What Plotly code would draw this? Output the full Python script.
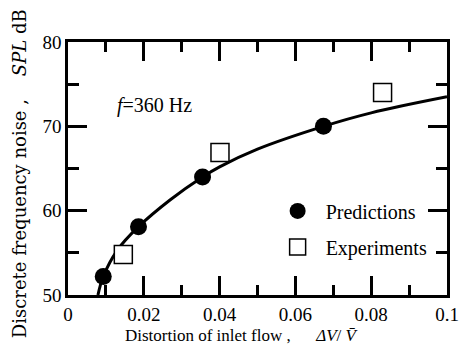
import plotly.graph_objects as go

# Data
pred_x = [0.0093, 0.0186, 0.0355, 0.0674]
pred_y = [52.2, 58.1, 64.0, 70.0]

exp_x = [0.0146, 0.0401, 0.0830]
exp_y = [54.8, 66.9, 74.0]

curve_x = [0.0079, 0.0093, 0.013, 0.0186, 0.027, 0.0355, 0.04, 0.05, 0.0674, 0.08, 0.1]
curve_y = [50.0, 52.2, 55.3, 58.1, 61.3, 64.0, 65.2, 67.3, 70.0, 71.6, 73.5]

x_ticks = [0, 0.02, 0.04, 0.06, 0.08, 0.1]
x_ticklabels = ["0", "0.02", "0.04", "0.06", "0.08", "0.1"]
y_ticks = [50, 60, 70, 80]

SERIF = "Liberation Serif"
SERIF2 = "DejaVu Serif"

fig = go.Figure()
fig.add_trace(go.Scatter(x=curve_x, y=curve_y, mode="lines",
                         line=dict(color="black", width=3, shape="spline", smoothing=1),
                         showlegend=False, hoverinfo="skip"))
fig.add_trace(go.Scatter(x=pred_x, y=pred_y, mode="markers", name="Predictions",
                         legendgroup="a",
                         marker=dict(symbol="circle", size=17, color="black")))
fig.add_trace(go.Scatter(x=exp_x, y=exp_y, mode="markers", name="Experiments",
                         legendgroup="b",
                         marker=dict(symbol="square", size=18, color="white",
                                     line=dict(color="black", width=1.5))))

fig.update_xaxes(range=[0, 0.1], tickvals=x_ticks, ticktext=x_ticklabels,
                 showline=True, linecolor="black", linewidth=2.5, mirror="ticks",
                 ticks="inside", ticklen=19, tickwidth=2.5, tickcolor="black",
                 showgrid=False, zeroline=False,
                 tickfont=dict(family=SERIF, size=19, color="black"),
                 minor=dict(dtick=0.01, ticks="inside", ticklen=10, tickwidth=2.5,
                            tickcolor="black", showgrid=False))
fig.update_yaxes(range=[50, 80], tickvals=y_ticks,
                 showline=True, linecolor="black", linewidth=2.5, mirror="ticks",
                 ticks="inside", ticklen=19, tickwidth=2.5, tickcolor="black",
                 showgrid=False, zeroline=False,
                 tickfont=dict(family=SERIF, size=19, color="black"),
                 minor=dict(dtick=5, ticks="inside", ticklen=11, tickwidth=2.5,
                            tickcolor="black", showgrid=False))

fig.add_annotation(x=0.0125, y=72.5, xref="x", yref="y", xanchor="left", yanchor="middle",
                   text="<i>f</i>=360 Hz", showarrow=False,
                   font=dict(family=SERIF, size=20, color="black"))

fig.add_annotation(x=0.46, y=-0.162, xref="paper", yref="paper", xanchor="center", yanchor="middle",
                   text="Distortion of inlet flow ,      <i>ΔV</i>/ <i>V̄</i>", showarrow=False,
                   font=dict(family=SERIF, size=17, color="black"))

fig.add_annotation(x=-0.129, y=0.478, xref="paper", yref="paper", xanchor="center", yanchor="middle",
                   textangle=-90,
                   text="Discrete frequency noise ,    <i>SPL</i> dB", showarrow=False,
                   font=dict(family=SERIF2, size=18, color="black"))

fig.update_layout(
    template="none",
    font=dict(family=SERIF, size=19, color="black"),
    width=461, height=350,
    margin=dict(l=68, r=14, t=42, b=55),
    paper_bgcolor="white", plot_bgcolor="white",
    showlegend=True,
    legend=dict(x=0.532, y=0.261, xanchor="left", yanchor="middle", itemwidth=46,
                bgcolor="rgba(0,0,0,0)", traceorder="grouped", tracegroupgap=7,
                font=dict(family=SERIF, size=20, color="black")),
)

fig.write_html("out.html")
